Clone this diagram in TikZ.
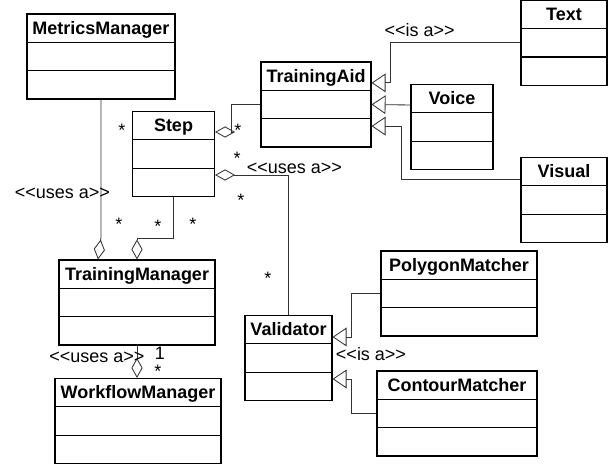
\documentclass[tikz,border=0pt]{standalone}
\usepackage{fontspec}
\setsansfont{Liberation Sans}
\usepackage{tikz}
\usetikzlibrary{arrows.meta}
\usepackage{xcolor}
\definecolor{LinkGray}{HTML}{333333}

% stereotype text, kerned so << and >> stay two glyphs each
\newcommand{\umlstereo}[1]{<\kern0pt<#1>\kern0pt>}

\begin{document}
\begin{tikzpicture}[
  font=\sffamily\fontsize{12.8pt}{15pt}\selectfont,
  umlclass/.style={
    draw=black,
    line width=0.8pt,
    minimum width=#1,
    minimum height=2.125cm,
    inner sep=0pt,
    text height=0.51cm,
    text depth=1.615cm,
    font=\sffamily\bfseries\fontsize{12.8pt}{15pt}\selectfont,
    path picture={
      \draw[line width=0.8pt]
        ([yshift=-0.708cm]path picture bounding box.north west) --
        ([yshift=-0.708cm]path picture bounding box.north east);
      \draw[line width=0.8pt]
        ([yshift=0.708cm]path picture bounding box.south west) --
        ([yshift=0.708cm]path picture bounding box.south east);
    }
  },
  aggr/.style={draw=LinkGray,line width=0.6pt,
    -{Diamond[open,length=0.5cm,width=0.28cm]}},
  isa/.style={draw=LinkGray,line width=0.6pt,
    -{Triangle[open,length=0.35cm,width=0.47cm]}},
  stereo/.style={inner sep=0pt},
  mult/.style={inner sep=0pt,yshift=-0.095cm}
]
\useasboundingbox (0,0) rectangle (15.2,-11.675);

% classes
\node[umlclass=3.7cm] (metrics) at (2.525,-1.4125) {MetricsManager};
\node[umlclass=2.05cm] (step) at (4.3375,-3.85) {Step};
\node[umlclass=2.75cm] (aid) at (7.9,-2.6125) {TrainingAid};
\node[umlclass=2.15cm] (text) at (14.1,-1.07) {Text};
\node[umlclass=2.05cm] (voice) at (11.3,-3.175) {Voice};
\node[umlclass=2.15cm] (visual) at (14.1,-5.0) {Visual};
\node[umlclass=3.9cm] (manager) at (3.425,-7.5625) {TrainingManager};
\node[umlclass=4.15cm] (workflow) at (3.45,-10.525) {WorkflowManager};
\node[umlclass=2.175cm] (validator) at (7.2125,-8.95) {Validator};
\node[umlclass=3.9cm] (polygon) at (11.475,-7.3375) {PolygonMatcher};
\node[umlclass=4.0cm] (contour) at (11.425,-10.3375) {ContourMatcher};

% aggregations
\draw[aggr] (metrics.south) -- ++(0,-3.45) -- ([xshift=-0.975cm]manager.north);
\draw[aggr] (step.south) -- ++(0,-1.025) -| (manager.north);
\draw[aggr] (aid.west) -- ++(-0.725,0) |- ([yshift=0.55cm]step.east);
\draw[aggr] (validator.north) |- ([yshift=-0.525cm]step.east);
\draw[aggr] (manager.south) -- (manager.south |- workflow.north);

% generalizations
\draw[isa] (text.west) -- ++(-3.25,0) |- ([yshift=0.54cm]aid.east);
\draw[isa] ([yshift=0.55cm]voice.west) -- (aid.east);
\draw[isa] ([yshift=0.525cm]visual.west) -- ++(-2.975,0) |- ([yshift=-0.54cm]aid.east);
\draw[isa] (polygon.west) -- ++(-0.725,0) |- ([yshift=0.525cm]validator.east);
\draw[isa] (contour.west) -- ++(-0.625,0) |- ([yshift=-0.525cm]validator.east);

% stereotypes
\node[stereo] (isaTop) at (10.49,-0.75) {\umlstereo{is a}};
\node[stereo] (usesLeft) at (1.5625,-4.825) {\umlstereo{uses a}};
\node[stereo] (usesMid) at (7.36,-4.2) {\umlstereo{uses a}};
\node[stereo] (isaLow) at (9.275,-8.85) {\umlstereo{is a}};
\node[stereo] (usesLow) at (2.425,-8.925) {\umlstereo{uses a}};

% multiplicities
\node[mult] (one) at (4.0,-8.75) {1};
\node[mult] (m1) at (3.05,-3.175) {*};
\node[mult] (m2) at (2.975,-5.525) {*};
\node[mult] (m3) at (3.95,-5.575) {*};
\node[mult] (m4) at (4.825,-5.525) {*};
\node[mult] (m5) at (5.95,-3.175) {*};
\node[mult] (m6) at (5.925,-3.875) {*};
\node[mult] (m7) at (6.025,-4.925) {*};
\node[mult] (m8) at (6.7,-6.875) {*};
\node[mult] (m9) at (3.95,-9.2) {*};
\end{tikzpicture}
\end{document}
